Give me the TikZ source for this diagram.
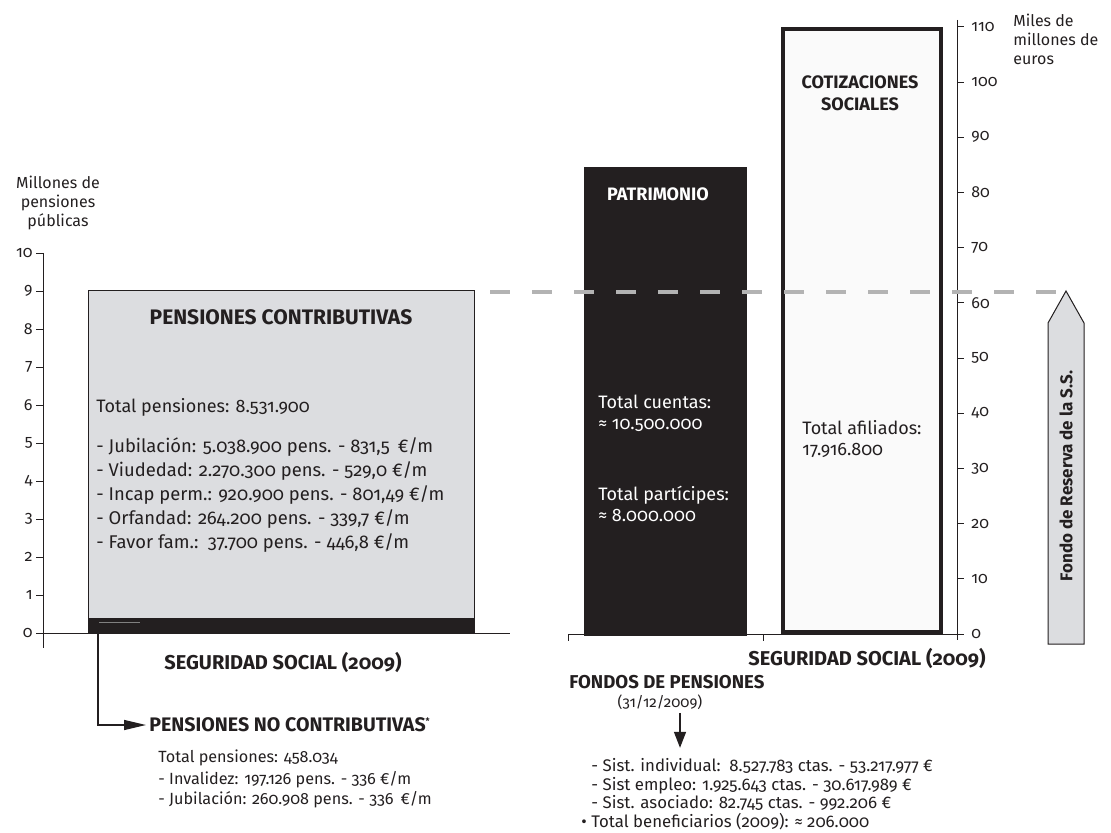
\documentclass[tikz,border=0pt]{standalone}
\usepackage{fontspec}
\setmainfont{Fira Sans}[Numbers=OldStyle]
\usetikzlibrary{arrows.meta}
\definecolor{boxgray}{RGB}{220,221,224}
\definecolor{inkdark}{RGB}{35,31,32}
\definecolor{dashgray}{RGB}{179,179,179}
\definecolor{paleface}{RGB}{250,250,250}
\newcommand{\pensaxis}{
    \draw[inkdark] (43,253) -- (43,648);
    \foreach \v in {0,...,10}
        \draw[inkdark] (36,633-38*\v) -- (43,633-38*\v) node[pos=0, left, font=\smallnums] {\v};
}
\newcommand{\eurosaxis}{
    \draw[inkdark] (957,20) -- (957,640);
    \draw[inkdark] (950,634) -- (957,634);
    \foreach \v in {0,10,...,110}
        \draw[inkdark] (957,634-5.52*\v) -- (964,634-5.52*\v) node[right=2pt, font=\smallnums] {\v};
}
\newcommand{\smallnums}{\fontsize{8}{9}\selectfont}
\tikzset{x=0.5pt, y=-0.5pt,
    every node/.append style={font=\fontsize{9}{10.5}\selectfont, text=inkdark, inner sep=1.5pt},
    boxtitle/.style={font=\fontsize{9}{11}\selectfont\bfseries},
    sidenote/.style={font=\fontsize{8.1}{10}\selectfont, align=left, anchor=west}}

\begin{document}
\begin{tikzpicture}
                \useasboundingbox (0,0) rectangle (1111,833);
                \fill[boxgray] (88,291) rectangle (474,633);
                \draw[inkdark, line width=0.5pt] (88,291) rectangle (474,633);
                \fill[inkdark] (88,618) rectangle (474,633);
                \fill[inkdark] (584,167) rectangle (747,636);
                \draw[inkdark, line width=2pt, fill=paleface] (783,29) rectangle (941,632);
                \draw[inkdark] (40,633) -- (510,633);
                \draw[inkdark] (568,634) -- (957,634);
                \draw[inkdark] (568,634) -- (568,641);
                \draw[inkdark] (763,634) -- (763,641);
                \pensaxis
                \eurosaxis
                \draw[dashgray, line width=2pt, dash pattern=on 10pt off 11pt] (490,292) -- (1062,292);
                \draw[inkdark, fill=boxgray, line width=0.5pt]
                    (1048,644) -- (1048,323) -- (1066,291) -- (1084,323) -- (1084,644) -- cycle;
                \node[rotate=90, font=\fontsize{8.5}{10}\selectfont\bfseries] (fondo) at (1066,476) {Fondo de Reserva de la S.S.};
                \node[align=center, font=\fontsize{8}{9.5}\selectfont] (pensunit) at (58,203) {Millones de\\pensiones\\públicas};
                \node[align=left, anchor=west, font=\fontsize{8}{9.5}\selectfont] (eurounit) at (1010,39) {Miles de\\millones de\\euros};
                \node[boxtitle, font=\fontsize{10.5}{12}\selectfont\bfseries] (contrib) at (281,317) {PENSIONES CONTRIBUTIVAS};
                \node[anchor=west] (contribtotal) at (93,407) {Total pensiones: 8.531.900};
                \node[anchor=west, align=left, font=\fontsize{9.2}{12}\selectfont] (contriblist) at (93,495) {- Jubilación: 5.038.900 pens. - 831,5 \,€/m\\
                    - Viudedad: 2.270.300 pens. - 529,0 €/m\\
                    - Incap perm.: 920.900 pens. - 801,49 €/m\\
                    - Orfandad: 264.200 pens. - 339,7 €/m\\
                    - Favor fam.: \,37.700 pens. - 446,8 €/m};
                \node[boxtitle, text=white] (patrimonio) at (658,194) {PATRIMONIO};
                \node[anchor=west, align=left, text=white] (cuentas) at (595,413) {Total cuentas:\\≈ 10.500.000};
                \node[anchor=west, align=left, text=white] (participes) at (595,504) {Total partícipes:\\≈ 8.000.000};
                \node[boxtitle, align=center] (cotiz) at (860,93) {COTIZACIONES\\SOCIALES};
                \node[anchor=west, align=left] (afiliados) at (799,439) {Total afiliados:\\17.916.800};
                \node[boxtitle, font=\fontsize{10}{12}\selectfont\bfseries] (segsocleft) at (283,662) {SEGURIDAD SOCIAL (2009)};
                \node[boxtitle, font=\fontsize{10}{12}\selectfont\bfseries] (segsocright) at (867,658) {SEGURIDAD SOCIAL (2009)};
                \node[boxtitle, font=\fontsize{9.8}{11}\selectfont\bfseries, anchor=west] (nocontrib) at (146,725) {PENSIONES NO CONTRIBUTIVAS\textsuperscript{\fontsize{4.5}{5}\selectfont *}};
                \node[sidenote] (nocontriblist) at (155,779) {Total pensiones: 458.034\\[1pt]
                    - Invalidez: 197.126 pens. - 336 €/m\\
                    - Jubilación: 260.908 pens. - 336 \,€/m};
                \node[boxtitle, font=\fontsize{9.3}{11}\selectfont\bfseries, anchor=west] (fondos) at (566,682) {FONDOS DE PENSIONES};
                \node[font=\fontsize{7.5}{9}\selectfont] (fondosdate) at (660,702) {(31/12/2009)};
                \node[sidenote, font=\fontsize{8.4}{9.3}\selectfont] (fondoslist) at (578,794) {\hspace*{5pt}- Sist. individual: \,8.527.783 ctas. - 53.217.977 €\\
                    \hspace*{5pt}- Sist empleo: 1.925.643 ctas. - 30.617.989 €\\
                    \hspace*{5pt}- Sist. asociado: 82.745 ctas. - 992.206 €\\
                    • Total beneficiarios (2009): ≈ 206.000};
                \coordinate (ncstart) at (98,622);
                \draw[gray, line width=0.5pt] (ncstart) -- (140,622);
                \draw[inkdark, line width=0.7pt, -{Triangle[length=11pt, width=5pt]}] (ncstart) |- (nocontrib.west);
                \draw[inkdark, line width=0.7pt, -{Triangle[length=8pt, width=6pt]}] ([xshift=10pt]fondosdate.south) -- ++(0,35);
\end{tikzpicture}
\end{document}
